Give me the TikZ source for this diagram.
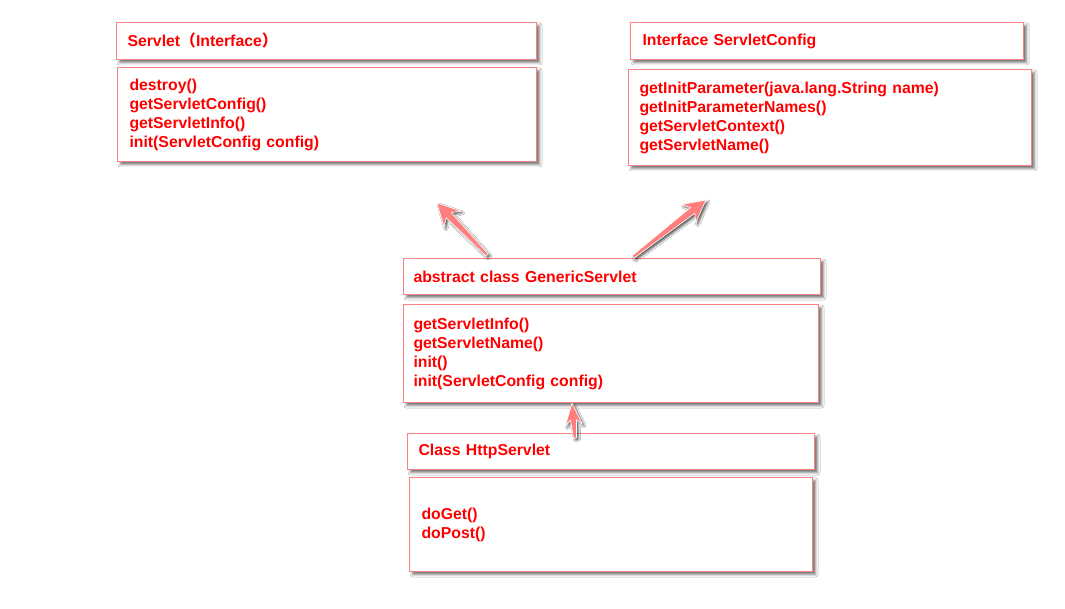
\documentclass[tikz,border=0pt]{standalone}
\usepackage{fontspec}
\setmainfont{Liberation Sans}
\newfontfamily\cjk{Noto Sans CJK SC}
\usetikzlibrary{calc,shadows.blur}
\definecolor{boxline}{HTML}{FF8080}
\definecolor{txt}{HTML}{FF0000}
\definecolor{arrowfill}{HTML}{FF7F7F}
\tikzset{
  umlbox/.style={draw=boxline, line width=1pt, fill=white, rectangle,
    anchor=north west, inner ysep=0pt, text=txt, align=left,
    font=\fontsize{15.8}{19}\selectfont\bfseries,
    blur shadow={shadow xshift=3pt, shadow yshift=-3pt,
      shadow blur radius=2.5pt, shadow opacity=55}},
  boxgeom/.style n args={4}{minimum width=#1, minimum height=#2,
    text width=#3, inner xsep=#4},
  fatarrowstyle/.style={fill=arrowfill, draw=white, line width=0.6pt,
    line join=round,
    blur shadow={shadow xshift=2pt, shadow yshift=-2pt,
      shadow blur radius=2pt, shadow opacity=65}},
}
% tail, tip, notch back, barb back, head half width, shaft half width, tail half width
\newcommand\fatarrow[7]{%
  \coordinate (fa-n) at ($(#2)!#3!(#1)$);
  \coordinate (fa-b) at ($(#2)!#4!(#1)$);
  \path[fatarrowstyle]
    ($(#1)!#7!90:(#2)$) -- ($(fa-n)!#6!90:(#2)$) -- ($(fa-b)!#5!90:(#2)$)
    -- (#2)
    -- ($(fa-b)!#5!-90:(#2)$) -- ($(fa-n)!#6!-90:(#2)$) -- ($(#1)!#7!-90:(#2)$)
    -- cycle;
}
\begin{document}
\begin{tikzpicture}[x=1pt,y=-1pt]
\useasboundingbox[fill=white] (0,0) rectangle (1065,609);

% Servlet interface
\node[umlbox, boxgeom={420pt}{37pt}{398pt}{11pt}] (servlethead) at (116,22)
  {Servlet{\cjk（}Interface{\cjk）}};
\node[umlbox, boxgeom={419pt}{94pt}{395pt}{12pt}] (servletbody) at (117,67)
  {destroy()\\getServletConfig()\\getServletInfo()\\init(ServletConfig config)};

% ServletConfig interface
\node[umlbox, boxgeom={393pt}{37pt}{369pt}{12pt}] (confighead) at (630,22)
  {Interface ServletConfig};
\node[umlbox, boxgeom={403pt}{96pt}{381pt}{11pt}] (configbody) at (628,69)
  {getInitParameter(java.lang.String name)\\getInitParameterNames()\\getServletContext()\\getServletName()};

% GenericServlet
\node[umlbox, boxgeom={417pt}{36pt}{397pt}{10pt}] (generichead) at (403,258)
  {abstract class GenericServlet};
\node[umlbox, boxgeom={415pt}{98pt}{395pt}{10pt}] (genericbody) at (403,304)
  {getServletInfo()\\getServletName()\\init()\\init(ServletConfig config)\vphantom{g}\\[-10pt]};

% HttpServlet
\node[umlbox, boxgeom={407pt}{36pt}{385pt}{11pt}] (httphead) at (407,433)
  {Class HttpServlet};
\node[umlbox, boxgeom={403pt}{94pt}{379pt}{12pt}] (httpbody) at (409,477)
  {doGet()\\doPost()};

% arrow end points
\coordinate (a1t) at (487,255);
\coordinate (a1h) at (437,203);
\coordinate (a2t) at (633,257);
\coordinate (a2h) at (706,200);
\coordinate (a3t) at (575,438);
\coordinate (a3h) at (572,403);

\fatarrow{a1t}{a1h}{17pt}{22pt}{11.5pt}{3.6pt}{1.5pt}
\fatarrow{a2t}{a2h}{17pt}{22pt}{11.5pt}{3.6pt}{1.5pt}
\fatarrow{a3t}{a3h}{17pt}{22pt}{8.5pt}{3pt}{1.5pt}
\end{tikzpicture}
\end{document}
